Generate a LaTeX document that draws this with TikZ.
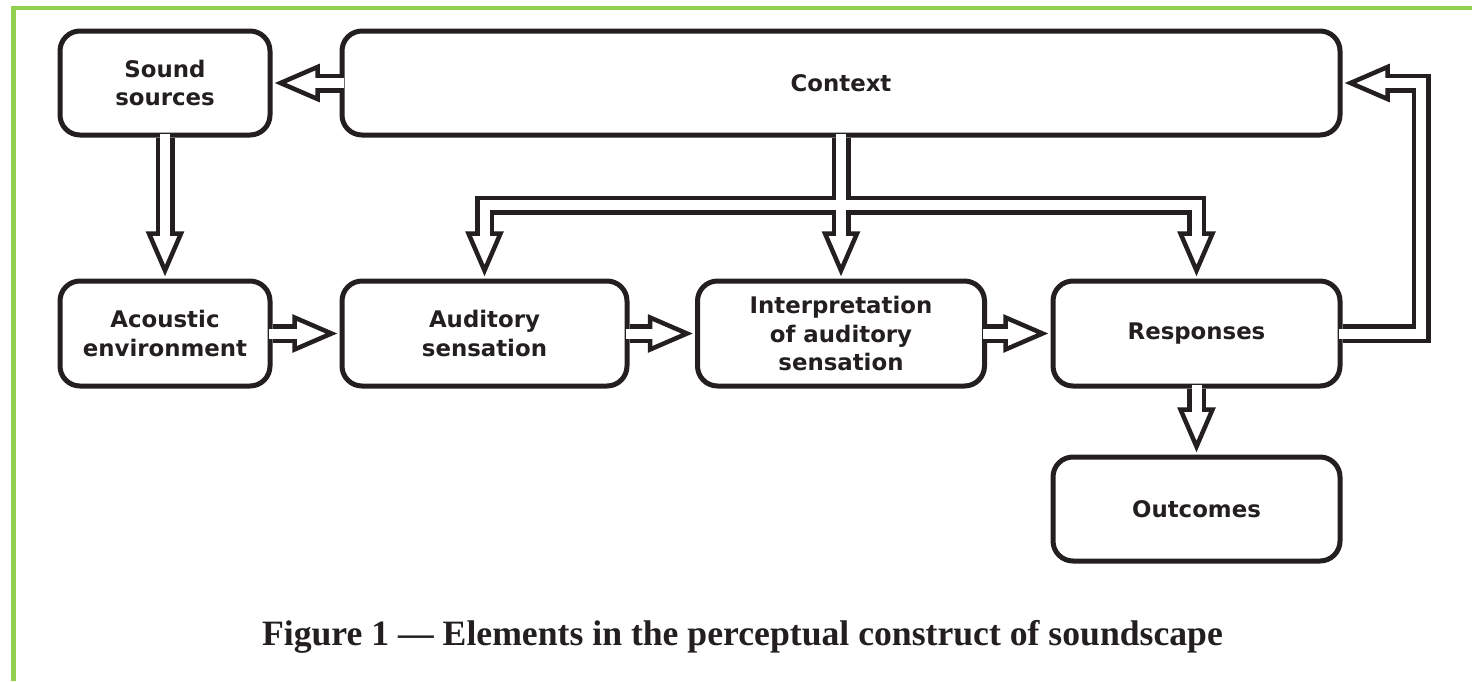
\documentclass[tikz,border=0pt]{standalone}
\usepackage{fontspec}
\setmainfont{Liberation Serif}
\newfontfamily\boxfont{DejaVu Sans}
\usetikzlibrary{calc}
\definecolor{ink}{HTML}{231F20}
\definecolor{framegreen}{HTML}{92D050}
\tikzset{
	box/.style={draw=ink, line width=1mm, rounded corners=4mm, align=center, text=ink, font=\boxfont\bfseries\fontsize{13}{16.2}\selectfont},
	pipe/.style={draw=ink, line width=3.8mm, line join=miter},
	bore/.style={draw=white, line width=2mm, line join=miter},
	pointer/.style={draw=ink, fill=white, line width=0.9mm, line join=miter},
}
\def\arrowhead(#1)(#2){\draw[pointer] ($(#1)!0.74cm!(#2)!0.32cm!90:(#1)$) -- (#1) -- ($(#1)!0.74cm!(#2)!0.32cm!-90:(#1)$) -- cycle;}
\def\hollow(#1)(#2){%
	\draw[pipe] (#1) -- ($(#2)!0.74cm!(#1)$);
	\arrowhead(#2)(#1)
	\draw[bore] ($(#1)!-0.08cm!(#2)$) -- ($(#2)!0.64cm!(#1)$);}

\begin{document}
\begin{tikzpicture}
		\useasboundingbox (0,0) rectangle (29.44,-13.62);
		%%%%% FRAME %%%%%
		\draw[framegreen, line width=0.09cm] (0.27,-13.62) -- (0.27,-0.16) -- (29.44,-0.16);
		
		%%%%% BOXES %%%%%
		\node[box, minimum width=4.2cm, minimum height=2.08cm] (snd) at (3.30,-1.66) {Sound\\sources};
		\node[box, minimum width=19.96cm, minimum height=2.08cm] (ctx) at (16.82,-1.66) {Context};
		\node[box, minimum width=4.2cm, minimum height=2.1cm] (acu) at (3.30,-6.67) {Acoustic\\environment};
		\node[box, minimum width=5.7cm, minimum height=2.1cm] (aud) at (9.69,-6.67) {Auditory\\sensation};
		\node[box, minimum width=5.74cm, minimum height=2.1cm] (int) at (16.82,-6.67) {Interpretation\\of auditory\\sensation};
		\node[box, minimum width=5.74cm, minimum height=2.1cm] (rsp) at (23.93,-6.67) {Responses};
		\node[box, minimum width=5.74cm, minimum height=2.08cm] (out) at (23.93,-10.18) {Outcomes};
		
		%%%%% STRAIGHT ARROWS %%%%%
		\coordinate (tsnd) at ($(snd.east)+(0.16,0)$);
		\coordinate (tacu) at ($(acu.north)+(0,0.16)$);
		\coordinate (taud) at ($(aud.west)+(-0.16,0)$);
		\coordinate (tint) at ($(int.west)+(-0.16,0)$);
		\coordinate (trsp) at ($(rsp.west)+(-0.16,0)$);
		\coordinate (tout) at ($(out.north)+(0,0.16)$);
		\hollow(ctx.west)(tsnd)
		\hollow(snd.south)(tacu)
		\hollow(acu.east)(taud)
		\hollow(aud.east)(tint)
		\hollow(int.east)(trsp)
		\hollow(rsp.south)(tout)
		
		%%%%% CONTEXT TREE %%%%%
		\coordinate (fork) at ($(ctx.south)+(0,-1.35)$);
		\coordinate (ka) at (aud.north |- fork);
		\coordinate (kr) at (rsp.north |- fork);
		\coordinate (ta) at ($(aud.north)+(0,0.16)$);
		\coordinate (ti) at ($(int.north)+(0,0.16)$);
		\coordinate (tr) at ($(rsp.north)+(0,0.16)$);
		\draw[pipe] ($(ta)!0.74cm!(ka)$) -- (ka) -- (kr) -- ($(tr)!0.74cm!(kr)$)
			(ctx.south) -- ($(ti)!0.74cm!(fork)$);
		\arrowhead(ta)(ka)
		\arrowhead(ti)(fork)
		\arrowhead(tr)(kr)
		\draw[bore] ($(ta)!0.64cm!(ka)$) -- (ka) -- (kr) -- ($(tr)!0.64cm!(kr)$)
			($(ctx.south)+(0,0.08)$) -- ($(ti)!0.64cm!(fork)$);
		
		%%%%% FEEDBACK %%%%%
		\coordinate (kb) at ($(rsp.east)+(1.57,0)$);
		\coordinate (kt) at (kb |- ctx.east);
		\coordinate (tc) at ($(ctx.east)+(0.16,0)$);
		\draw[pipe] (rsp.east) -- (kb) -- (kt) -- ($(tc)!0.74cm!(kt)$);
		\arrowhead(tc)(kt)
		\draw[bore] ($(rsp.east)+(-0.08,0)$) -- (kb) -- (kt) -- ($(tc)!0.64cm!(kt)$);
		
		%%%%% CAPTION %%%%%
		\node[anchor=base, text=ink, font=\bfseries\fontsize{20.3}{24}\selectfont] (cap) at (14.85,-12.90) {Figure 1 — Elements in the perceptual construct of soundscape};
\end{tikzpicture}
\end{document}
